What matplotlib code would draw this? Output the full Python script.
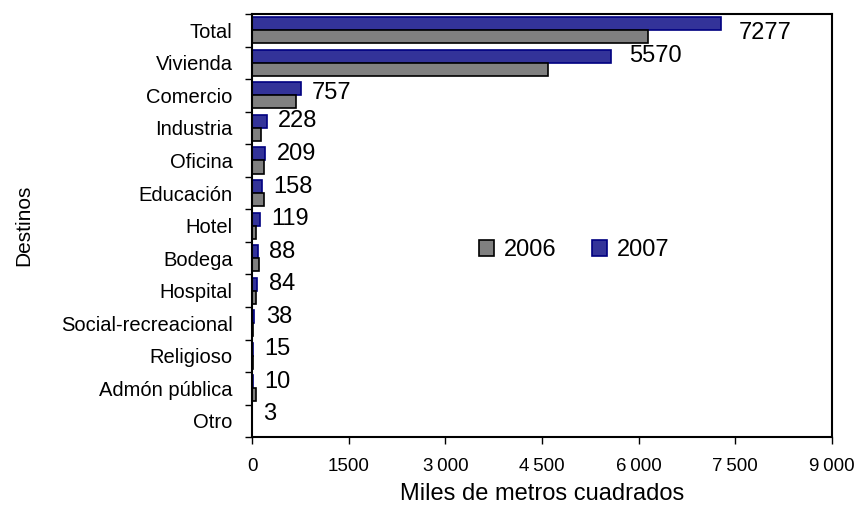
import matplotlib
matplotlib.use("Agg")
import matplotlib.pyplot as plt
import numpy as np
from matplotlib.ticker import FixedLocator

plt.rcParams['font.family'] = ['Liberation Sans', 'DejaVu Sans']

categories = ["Total", "Vivienda", "Comercio", "Industria", "Oficina", "Educación",
              "Hotel", "Bodega", "Hospital", "Social-recreacional", "Religioso",
              "Admón pública", "Otro"]
values_2006 = [6150, 4590, 680, 140, 180, 180, 67, 103, 67, 15, 8, 67, 5]
values_2007 = [7277, 5570, 757, 228, 209, 158, 119, 88, 84, 38, 15, 10, 3]
xticks = [0, 1500, 3000, 4500, 6000, 7500, 9000]
xtick_labels = ["0", "1500", "3\u2009000", "4\u2009500", "6\u2009000", "7\u2009500", "9\u2009000"]

fig = plt.figure(figsize=(8.59, 5.18), dpi=100)
ax = fig.add_axes([0.2934, 0.156, 0.6752, 0.817])

y = np.arange(len(categories))
h = 0.4
ax.barh(y - h / 2, values_2007, height=h, color="#333399", edgecolor="#000080",
        linewidth=1.2, label="2007")
ax.barh(y + h / 2, values_2006, height=h, color="#808080", edgecolor="black",
        linewidth=1.2, label="2006")

for i, (yi, v7) in enumerate(zip(y, values_2007)):
    off = 13 if v7 >= 1000 else 8
    dy = -7 if i == 0 else (-3 if i == 2 else 0)
    ax.annotate(f"{v7}", xy=(v7, yi - h / 2), xytext=(off, dy), textcoords="offset points",
                va="center", ha="left", fontsize=17)

ax.set_xlim(0, 9000)
ax.set_ylim(len(categories) - 0.5, -0.5)
ax.set_xticks(xticks)
ax.set_xticklabels(xtick_labels, fontsize=13.5)
ax.set_yticks(y)
ax.set_yticklabels(categories, fontsize=14.5)
ax.tick_params(axis="y", length=0, pad=14)
ax.yaxis.set_minor_locator(FixedLocator(np.arange(-0.5, len(categories) + 0.5, 1)))
ax.tick_params(axis="y", which="minor", length=5, width=1)
ax.tick_params(axis="x", length=5, width=1, pad=10)
for s in ax.spines.values():
    s.set_linewidth(1.5)

ax.set_xlabel("Miles de metros cuadrados", fontsize=17, labelpad=6)
ax.set_ylabel("Destinos", fontsize=15, labelpad=20)

handles, labels = ax.get_legend_handles_labels()
ax.legend(handles[::-1], labels[::-1], ncol=2, frameon=False, fontsize=17,
          loc="center left", bbox_to_anchor=(0.391, 0.442), borderaxespad=0,
          borderpad=0, handlelength=0.65, handleheight=0.65, columnspacing=1.5,
          handletextpad=0.4)

fig.savefig("out.png", dpi=100)
